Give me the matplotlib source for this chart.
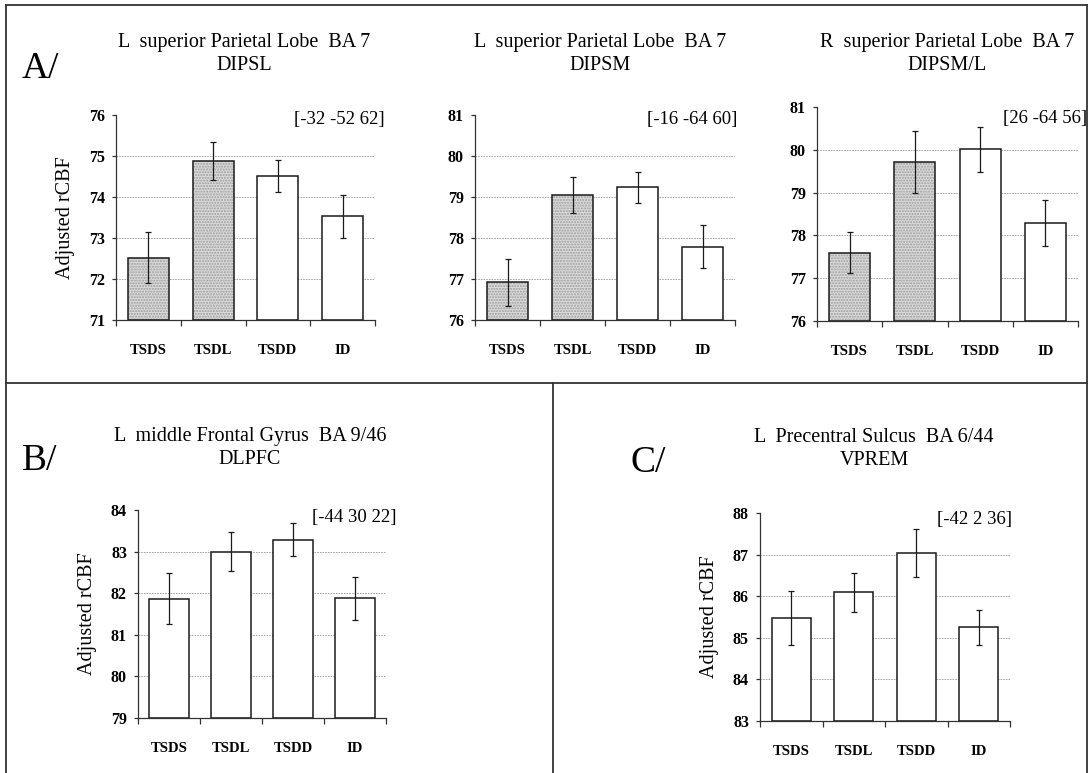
import matplotlib
matplotlib.use("Agg")
import matplotlib.pyplot as plt
from matplotlib.lines import Line2D

# ---------------- data ----------------
categories = ["TSDS", "TSDL", "TSDD", "ID"]

a1_means = [72.52, 74.87, 74.51, 73.53]
a1_err = [0.62, 0.46, 0.40, 0.53]
a2_means = [76.92, 79.05, 79.24, 77.79]
a2_err = [0.58, 0.45, 0.38, 0.52]
a3_means = [77.60, 79.71, 80.01, 78.29]
a3_err = [0.49, 0.73, 0.53, 0.53]
b_means = [81.87, 83.00, 83.29, 81.88]
b_err = [0.62, 0.46, 0.40, 0.52]
c_means = [85.48, 86.09, 87.04, 85.25]
c_err = [0.65, 0.47, 0.57, 0.43]

a_shaded = [True, True, False, False]
no_shade = [False, False, False, False]

titles = {
    "A1": "L  superior Parietal Lobe  BA 7\nDIPSL",
    "A2": "L  superior Parietal Lobe  BA 7\nDIPSM",
    "A3": "R  superior Parietal Lobe  BA 7\nDIPSM/L",
    "B": "L  middle Frontal Gyrus  BA 9/46\nDLPFC",
    "C": "L  Precentral Sulcus  BA 6/44\nVPREM",
}
coords = {"A1": "[-32 -52 62]", "A2": "[-16 -64 60]", "A3": "[26 -64 56]",
          "B": "[-44 30 22]", "C": "[-42 2 36]"}
ylims = {"A1": (71, 76), "A2": (76, 81), "A3": (76, 81), "B": (79, 84), "C": (83, 88)}
ylabel = "Adjusted rCBF"

# ---------------- layout ----------------
W, H = 1088, 773
fig = plt.figure(figsize=(W / 100, H / 100), dpi=100)
SERIF = ["Liberation Serif", "DejaVu Serif"]


def fx(x):
    return x / W


def fy(y):
    return 1 - y / H


def make_axes(x0, x1, ytop, ybot):
    return fig.add_axes([fx(x0), fy(ybot), fx(x1) - fx(x0), (ybot - ytop) / H])


boxes = {
    "A1": (116, 375, 115, 320),
    "A2": (475, 735, 115, 320),
    "A3": (817, 1078, 107, 321),
    "B": (138, 386, 510, 718),
    "C": (760, 1010, 513, 721),
}
title_pos = {"A1": (244, 42, 65), "A2": (600, 42, 65), "A3": (947, 42, 65),
             "B": (250, 437, 459), "C": (874, 437, 460)}
coord_pos = {"A1": (385, 124), "A2": (737, 124), "A3": (1087, 123),
             "B": (397, 522), "C": (1012, 524)}

panel_data = {
    "A1": (a1_means, a1_err, a_shaded, True),
    "A2": (a2_means, a2_err, a_shaded, False),
    "A3": (a3_means, a3_err, a_shaded, False),
    "B": (b_means, b_err, no_shade, True),
    "C": (c_means, c_err, no_shade, True),
}

x = list(range(len(categories)))
for key, (means, errs, shaded, show_ylabel) in panel_data.items():
    x0, x1, yt, yb = boxes[key]
    ax = make_axes(x0, x1, yt, yb)
    lo, hi = ylims[key]
    heights = [m - lo for m in means]
    faces = ["#dadada" if s else "white" for s in shaded]
    hatches = ["......" if s else None for s in shaded]
    # stipple layer
    for xi, h, fc, ht in zip(x, heights, faces, hatches):
        ax.bar(xi, h, bottom=lo, width=0.63, color=fc, hatch=ht,
               edgecolor="#9c9c9c", linewidth=0, zorder=2)
    # outline layer
    ax.bar(x, heights, bottom=lo, width=0.63, facecolor="none",
           edgecolor="#1a1a1a", linewidth=1.1, zorder=3)
    ax.errorbar(x, means, yerr=errs, fmt="none", ecolor="#1a1a1a",
                elinewidth=0.9, capsize=2.2, capthick=0.9, zorder=4)
    ax.set_ylim(lo, hi)
    ax.set_xlim(-0.5, len(categories) - 0.5)
    yt_vals = list(range(lo, hi + 1))
    ax.set_yticks(yt_vals)
    for v in yt_vals[1:-1]:
        ax.axhline(v, color="#9a9a9a", linestyle=(0, (2, 1.2)), linewidth=0.6, zorder=1)
    ax.set_yticklabels([str(v) for v in yt_vals], fontfamily=SERIF,
                       fontweight="bold", fontsize=11.5)
    ax.set_xticks([i - 0.5 for i in range(len(categories) + 1)])
    ax.set_xticklabels([])
    ax.set_xticks(x, minor=True)
    ax.set_xticklabels(categories, minor=True, fontfamily=SERIF,
                       fontweight="bold", fontsize=10.5)
    ax.tick_params(axis="x", which="major", length=4, width=0.9, color="#333333", direction="out")
    ax.tick_params(axis="x", which="minor", length=0, pad=17)
    ax.tick_params(axis="y", length=3, width=0.9, color="#333333", pad=5)
    for s in ("top", "right"):
        ax.spines[s].set_visible(False)
    for s in ("left", "bottom"):
        ax.spines[s].set_color("#333333")
        ax.spines[s].set_linewidth(0.9)
    if show_ylabel:
        ax.set_ylabel(ylabel, fontfamily=SERIF, fontsize=14.5, labelpad=10)
    tx, ty1, ty2 = title_pos[key]
    l1, l2 = titles[key].split("\n")
    fig.text(fx(tx), fy(ty1), l1, ha="center", va="center", fontfamily=SERIF, fontsize=14.5)
    fig.text(fx(tx), fy(ty2), l2, ha="center", va="center", fontfamily=SERIF, fontsize=14.5)
    cx, cy = coord_pos[key]
    fig.text(fx(cx), fy(cy), coords[key], ha="right", va="baseline",
             fontfamily=SERIF, fontsize=13.5)

# panel letters
for lab, (px, py) in {"A/": (22, 78), "B/": (22, 470), "C/": (630, 472)}.items():
    fig.text(fx(px), fy(py), lab, ha="left", va="baseline", fontfamily=SERIF, fontsize=27)

# frame lines
frame_kw = dict(color="#333333", linewidth=1.3, transform=fig.transFigure)
fig.add_artist(Line2D([fx(6), fx(1087)], [fy(5), fy(5)], **frame_kw))
fig.add_artist(Line2D([fx(6), fx(6)], [fy(5), fy(773)], **frame_kw))
fig.add_artist(Line2D([fx(1087), fx(1087)], [fy(5), fy(773)], **frame_kw))
fig.add_artist(Line2D([fx(6), fx(1087)], [fy(383), fy(383)], **frame_kw))
fig.add_artist(Line2D([fx(553), fx(553)], [fy(383), fy(773)], **frame_kw))

fig.savefig("out.png", dpi=100)
